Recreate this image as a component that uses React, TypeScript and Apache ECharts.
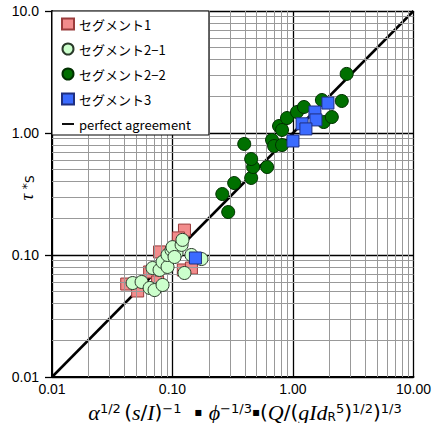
import React, { useEffect, useRef } from "react";
import * as echarts from "echarts";

// ---- data ----
const seg1X = [0.0417, 0.0514, 0.0646, 0.0752, 0.0781, 0.1257, 0.112, 0.123, 0.1436];
const seg1Y = [0.0578, 0.0507, 0.0726, 0.0601, 0.106, 0.16, 0.138, 0.0754, 0.0782];

const seg21X = [0.0467, 0.0554, 0.0646, 0.071, 0.0683, 0.0781, 0.0827, 0.091, 0.091, 0.0981, 0.108, 0.1, 0.119, 0.121, 0.1436, 0.1257, 0.174, 0.104, 0.0827];
const seg21Y = [0.0589, 0.0601, 0.0537, 0.0516, 0.0782, 0.0754, 0.0877, 0.0798, 0.1, 0.11, 0.104, 0.116, 0.121, 0.133, 0.1, 0.0712, 0.0927, 0.0963, 0.0568];

const seg22X = [0.29, 0.259, 0.325, 0.45, 0.467, 0.61, 0.45, 0.394, 0.67, 0.697, 0.811, 0.766, 0.811, 0.892, 1.08, 1.233, 1.737, 2.54, 1.8, 2.1, 2.79];
const seg22Y = [0.225, 0.316, 0.389, 0.428, 0.526, 0.526, 0.612, 0.813, 0.877, 0.782, 0.797, 1.141, 1.059, 1.327, 1.486, 1.634, 1.864, 1.83, 1.23, 1.352, 3.05];

const seg3X = [1.95, 1.52, 1.55, 1.19, 1.28, 1.0, 0.155];
const seg3Y = [1.76, 1.486, 1.28, 1.19, 1.08, 0.86, 0.0945];

const perfectX = [0.01, 10];
const perfectY = [0.01, 10];

const tickValues = [0.01, 0.1, 1, 10];
const xTickLabels = ["0.01", "0.10", "1.00", "10.00"];
const yTickLabels = ["0.01", "0.10", "1.00", "10.0"];
const minorDecades = [0.01, 0.1, 1];
const minorMultipliers = [2, 3, 4, 5, 6, 7, 8, 9];

const seriesNames = ["セグメント1", "セグメント2−1", "セグメント2−2", "セグメント3", "perfect agreement"];

const zip = (xs: number[], ys: number[]) => xs.map((x, i) => [x, ys[i]]);

const labelFor = (labels: string[]) => (v: number) => {
  const idx = tickValues.findIndex((t) => Math.abs(Math.log10(t) - Math.log10(v)) < 1e-6);
  return idx >= 0 ? labels[idx] : "";
};

export default function App() {
  const ref = useRef<HTMLDivElement>(null);
  useEffect(() => {
    if (!ref.current) return;
    const chart = echarts.init(ref.current, undefined, { renderer: "svg" });
    const minorVals: number[] = [];
    minorDecades.forEach((d) => minorMultipliers.forEach((m) => minorVals.push(d * m)));
    const minorLines = [
      ...minorVals.map((v) => ({ xAxis: v })),
      ...minorVals.map((v) => ({ yAxis: v })),
    ];
    const tickFont = { fontFamily: "Liberation Sans, Arial, sans-serif", fontSize: 14, color: "#000" };
    const option: any = {
      animation: false,
      grid: { left: 52, right: 19, top: 11, bottom: 46, containLabel: false },
      legend: {
        data: [
          { name: seriesNames[0] },
          { name: seriesNames[1] },
          { name: seriesNames[2] },
          { name: seriesNames[3] },
          { name: seriesNames[4], icon: "path://M0,0H14V2.2H0Z" },
        ],
        orient: "vertical",
        left: 52,
        top: 11,
        backgroundColor: "#fff",
        borderColor: "#000",
        borderWidth: 1,
        borderRadius: 0,
        padding: [6, 18, 4, 9],
        itemGap: 11,
        itemWidth: 12,
        itemHeight: 11,
        textStyle: { fontFamily: "Noto Sans CJK JP", fontSize: 13, color: "#000", lineHeight: 14 },
        z: 10,
      },
      xAxis: {
        type: "log",
        logBase: 10,
        min: 0.01,
        max: 10,
        splitNumber: 3,
        axisLine: { show: true, lineStyle: { color: "#000", width: 2 } },
        axisTick: { show: false },
        axisLabel: { ...tickFont, margin: 5, formatter: labelFor(xTickLabels) },
        splitLine: { show: true, lineStyle: { color: "#000", width: 1.3 } },
      },
      yAxis: {
        type: "log",
        logBase: 10,
        min: 0.01,
        max: 10,
        splitNumber: 3,
        axisLine: { show: true, lineStyle: { color: "#000", width: 2 } },
        axisTick: { show: true, inside: false, length: 7, lineStyle: { color: "#000", width: 1.3 } },
        axisLabel: { ...tickFont, margin: 13, formatter: labelFor(yTickLabels) },
        splitLine: { show: true, lineStyle: { color: "#000", width: 1.3 } },
      },
      graphic: [
        {
          type: "text",
          x: 245,
          y: 412,
          z: 20,
          style: {
            text:
              "{i|α}{sup|1/2} {n|(}{i|s}{n|/}{i|I}{n|)}{sup|−1}{n|  }{d|▪}{n| }{i|ϕ}{sup|−1/3}{d|▪}{n|(}{i|Q}{n|/(}{i|gId}{sub|R}{sup|5}{n|)}{sup|1/2}{n|)}{sup|1/3}",
            textAlign: "center",
            textVerticalAlign: "middle",
            fill: "#000",
            rich: {
              n: { fontFamily: "DejaVu Sans", fontSize: 20, lineHeight: 21, verticalAlign: "middle" },
              d: { fontFamily: "DejaVu Sans", fontSize: 12, lineHeight: 21, verticalAlign: "middle" },
              i: { fontFamily: "Liberation Serif", fontStyle: "italic", fontSize: 22, lineHeight: 21, verticalAlign: "middle" },
              sup: { fontFamily: "DejaVu Sans", fontSize: 13, lineHeight: 12, verticalAlign: "top" },
              sub: { fontFamily: "DejaVu Sans", fontSize: 12, lineHeight: 11, verticalAlign: "bottom" },
            },
          },
        },
        {
          type: "text",
          x: 26,
          y: 188,
          rotation: Math.PI / 2,
          z: 20,
          style: {
            text: "{t|τ}{n| *}{sub|S}",
            textAlign: "center",
            textVerticalAlign: "middle",
            fill: "#000",
            rich: {
              t: { fontFamily: "Liberation Serif", fontStyle: "italic", fontSize: 19, lineHeight: 20, verticalAlign: "middle" },
              n: { fontFamily: "DejaVu Sans", fontSize: 13, lineHeight: 20, verticalAlign: "middle" },
              sub: { fontFamily: "DejaVu Sans", fontSize: 12, lineHeight: 14, verticalAlign: "bottom" },
            },
          },
        },
      ],
      series: [
        {
          type: "line",
          name: "__grid",
          data: [[0.01, 0.01]],
          symbol: "none",
          silent: true,
          z: 1,
          lineStyle: { opacity: 0 },
          markLine: {
            silent: true,
            symbol: ["none", "none"],
            label: { show: false },
            lineStyle: { color: "#999", width: 1, type: "solid" },
            emphasis: { disabled: true },
            data: minorLines,
          },
        },
        {
          type: "line",
          name: seriesNames[4],
          data: zip(perfectX, perfectY),
          symbol: "none",
          z: 3,
          lineStyle: { color: "#000", width: 2.5 },
          itemStyle: { color: "#000" },
        },
        {
          type: "scatter",
          name: seriesNames[0],
          data: zip(seg1X, seg1Y),
          symbol: "rect",
          symbolSize: 12,
          z: 4,
          itemStyle: { color: "#F28C8C", borderColor: "#9A3C3C", borderWidth: 1, opacity: 1 },
        },
        {
          type: "scatter",
          name: seriesNames[1],
          data: zip(seg21X, seg21Y),
          symbol: "circle",
          symbolSize: 13,
          z: 5,
          itemStyle: { color: "#CCFFCC", borderColor: "#2A3A2A", borderWidth: 1, opacity: 1 },
        },
        {
          type: "scatter",
          name: seriesNames[2],
          data: zip(seg22X, seg22Y),
          symbol: "circle",
          symbolSize: 13,
          z: 5,
          itemStyle: { color: "#007000", borderColor: "#003000", borderWidth: 1, opacity: 1 },
        },
        {
          type: "scatter",
          name: seriesNames[3],
          data: zip(seg3X, seg3Y),
          symbol: "rect",
          symbolSize: 12,
          z: 6,
          itemStyle: { color: "#3B6BFF", borderColor: "#1F2F80", borderWidth: 1, opacity: 1 },
        },
      ],
    };
    chart.setOption(option);
    return () => chart.dispose();
  }, []);
  return <div ref={ref} style={{ position: "fixed", left: 0, top: 0, width: 434, height: 423, background: "#fff" }} />;
}
